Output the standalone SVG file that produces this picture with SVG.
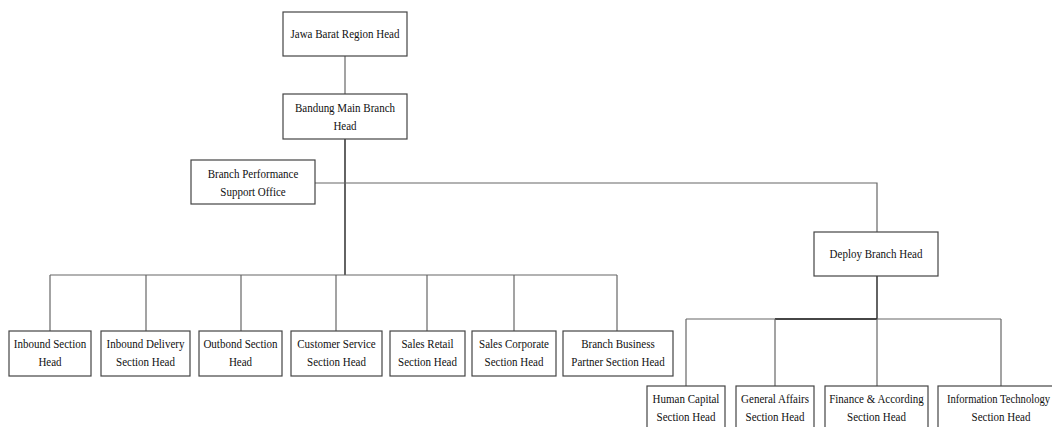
<svg xmlns="http://www.w3.org/2000/svg" width="1052" height="427" viewBox="0 0 1052 427">
  <style>
    .box { fill: #ffffff; stroke: #444444; stroke-width: 1.2; }
    .lbl { font-family: "Liberation Serif", "Times New Roman", serif; font-size: 12.5px; fill: #111111; text-anchor: middle; }
    .ln { fill: none; stroke: #666666; stroke-width: 1.2; }
    .trunk { fill: none; stroke: #222222; stroke-width: 1.4; }
  </style>
  <rect width="1052" height="427" fill="#ffffff"/>

  <!-- connectors -->
  <g id="connectors">
    <line class="ln" x1="345" y1="56" x2="345" y2="94"/>
    <line class="trunk" x1="345" y1="139" x2="345" y2="275"/>
    <polyline class="ln" points="315,183 877,183 877,232"/>
    <line class="ln" x1="50" y1="275" x2="617" y2="275"/>
    <line class="ln" x1="50" y1="275" x2="50" y2="331"/>
    <line class="ln" x1="146" y1="275" x2="146" y2="331"/>
    <line class="ln" x1="241" y1="275" x2="241" y2="331"/>
    <line class="ln" x1="336" y1="275" x2="336" y2="331"/>
    <line class="ln" x1="427" y1="275" x2="427" y2="331"/>
    <line class="ln" x1="514" y1="275" x2="514" y2="331"/>
    <line class="ln" x1="617" y1="275" x2="617" y2="331"/>
    <line class="trunk" x1="877" y1="276" x2="877" y2="319"/>
    <line class="ln" x1="686" y1="319" x2="1001" y2="319"/>
    <line class="trunk" x1="775" y1="319" x2="877" y2="319"/>
    <line class="ln" x1="686" y1="319" x2="686" y2="386"/>
    <line class="ln" x1="775" y1="319" x2="775" y2="386"/>
    <line class="ln" x1="877" y1="319" x2="877" y2="386"/>
    <line class="ln" x1="1001" y1="319" x2="1001" y2="386"/>
  </g>

  <g id="region-head">
    <rect class="box" x="283" y="12" width="124" height="44"/>
    <text class="lbl" transform="translate(345 38) scale(0.88 1)">Jawa Barat Region Head</text>
  </g>

  <g id="main-branch-head">
    <rect class="box" x="283" y="94" width="124" height="45"/>
    <text class="lbl" transform="translate(345 112) scale(0.88 1)">Bandung Main Branch</text>
    <text class="lbl" transform="translate(345 130) scale(0.88 1)">Head</text>
  </g>

  <g id="performance-support">
    <rect class="box" x="191" y="160" width="124" height="44"/>
    <text class="lbl" transform="translate(253 178) scale(0.88 1)">Branch Performance</text>
    <text class="lbl" transform="translate(253 196) scale(0.88 1)">Support Office</text>
  </g>

  <g id="deploy-branch-head">
    <rect class="box" x="814" y="232" width="124" height="44"/>
    <text class="lbl" transform="translate(876 258) scale(0.88 1)">Deploy Branch Head</text>
  </g>

  <g id="inbound">
    <rect class="box" x="9" y="331" width="82" height="45"/>
    <text class="lbl" transform="translate(50 348) scale(0.88 1)">Inbound Section</text>
    <text class="lbl" transform="translate(50 366) scale(0.88 1)">Head</text>
  </g>

  <g id="inbound-delivery">
    <rect class="box" x="101" y="331" width="89" height="45"/>
    <text class="lbl" transform="translate(145.5 348) scale(0.88 1)">Inbound Delivery</text>
    <text class="lbl" transform="translate(145.5 366) scale(0.88 1)">Section Head</text>
  </g>

  <g id="outbond">
    <rect class="box" x="199" y="331" width="83" height="45"/>
    <text class="lbl" transform="translate(240.5 348) scale(0.88 1)">Outbond Section</text>
    <text class="lbl" transform="translate(240.5 366) scale(0.88 1)">Head</text>
  </g>

  <g id="customer-service">
    <rect class="box" x="291" y="331" width="91" height="45"/>
    <text class="lbl" transform="translate(336.5 348) scale(0.88 1)">Customer Service</text>
    <text class="lbl" transform="translate(336.5 366) scale(0.88 1)">Section Head</text>
  </g>

  <g id="sales-retail">
    <rect class="box" x="390" y="331" width="75" height="45"/>
    <text class="lbl" transform="translate(427.5 348) scale(0.88 1)">Sales Retail</text>
    <text class="lbl" transform="translate(427.5 366) scale(0.88 1)">Section Head</text>
  </g>

  <g id="sales-corporate">
    <rect class="box" x="472" y="331" width="84" height="45"/>
    <text class="lbl" transform="translate(514 348) scale(0.88 1)">Sales Corporate</text>
    <text class="lbl" transform="translate(514 366) scale(0.88 1)">Section Head</text>
  </g>

  <g id="business-partner">
    <rect class="box" x="563" y="331" width="110" height="45"/>
    <text class="lbl" transform="translate(618 348) scale(0.88 1)">Branch Business</text>
    <text class="lbl" transform="translate(618 366) scale(0.88 1)">Partner Section Head</text>
  </g>

  <g id="human-capital">
    <rect class="box" x="647" y="386" width="78" height="46"/>
    <text class="lbl" transform="translate(686 403) scale(0.88 1)">Human Capital</text>
    <text class="lbl" transform="translate(686 421) scale(0.88 1)">Section Head</text>
  </g>

  <g id="general-affairs">
    <rect class="box" x="736" y="386" width="78" height="46"/>
    <text class="lbl" transform="translate(775 403) scale(0.88 1)">General Affairs</text>
    <text class="lbl" transform="translate(775 421) scale(0.88 1)">Section Head</text>
  </g>

  <g id="finance">
    <rect class="box" x="825" y="386" width="103" height="46"/>
    <text class="lbl" transform="translate(876.5 403) scale(0.88 1)">Finance &amp; According</text>
    <text class="lbl" transform="translate(876.5 421) scale(0.88 1)">Section Head</text>
  </g>

  <g id="information-technology">
    <rect class="box" x="938" y="386" width="126" height="46"/>
    <text class="lbl" transform="translate(998.5 403) scale(0.85 1)">Information Technology</text>
    <text class="lbl" transform="translate(1001 421) scale(0.88 1)">Section Head</text>
  </g>
</svg>
